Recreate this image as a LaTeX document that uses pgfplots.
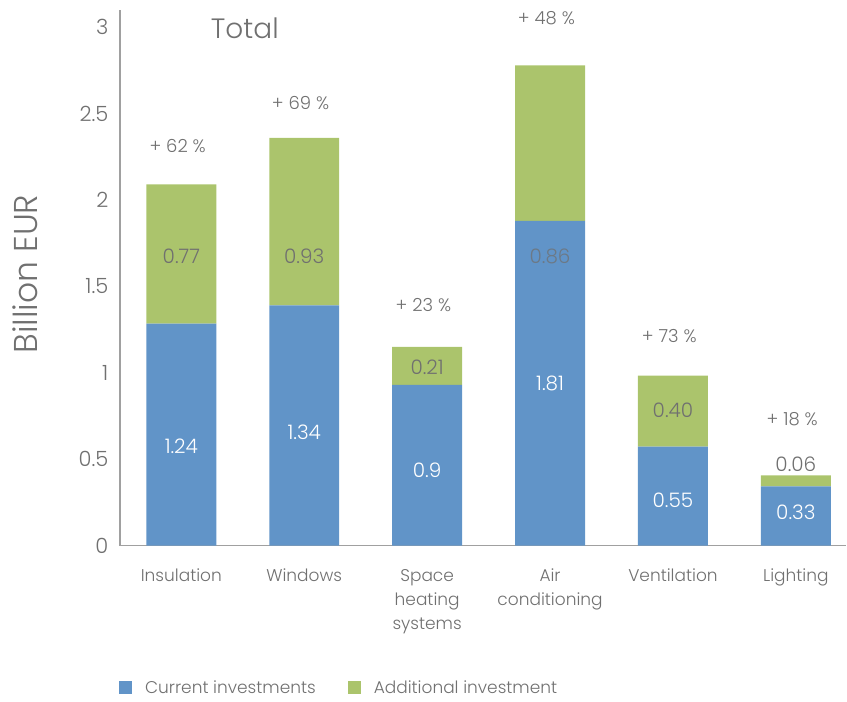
\documentclass[border=0pt]{standalone}
\usepackage{pgfplots}
\pgfplotsset{compat=1.18}
\usepackage{fontspec}
\setmainfont{Poppins}[UprightFont=* Light]
\definecolor{cblue}{HTML}{6194C8}
\definecolor{cgreen}{HTML}{ABC46C}
\definecolor{ctext}{HTML}{707070}
\definecolor{caxis}{HTML}{A0A0A0}
\tikzset{
 vlab/.style={font=\fontsize{20}{24}\selectfont, anchor=center},
 plab/.style={font=\fontsize{18}{22}\selectfont, anchor=center, text=ctext},
}
\begin{document}
\begin{tikzpicture}
\begin{axis}[
 scale only axis, width=727pt, height=536pt,
 ybar stacked, bar width=70pt,
 xmin=-0.5, xmax=5.41, ymin=0, ymax=3.1,
 xtick=data,
 xticklabels={Insulation,Windows,{Space\\heating\\systems},{Air\\conditioning},Ventilation,Lighting},
 xticklabel style={align=center, font=\fontsize{17}{24}\selectfont, text=ctext, yshift=-20pt},
 ytick={0,0.5,1,1.5,2,2.5,3}, yticklabels={0,0.5,1,1.5,2,2.5,3},
 yticklabel style={font=\fontsize{21}{24}\selectfont, text=ctext, xshift=-8pt},
 axis lines=left, axis line style={caxis, line width=1.5pt, -},
 major tick length=0pt,
 ylabel={Billion EUR},
 ylabel style={at={(axis description cs:-0.1307,0.507)}, anchor=center, font=\fontsize{33}{38}\selectfont, text=ctext},
 legend style={at={(axis description cs:0,0)}, anchor=west, xshift=-4pt, yshift=-142pt, draw=none, fill=none,
   font=\fontsize{17}{22}\selectfont, text=ctext, legend columns=2,
   /tikz/every even column/.append style={column sep=30pt}},
 legend image code/.code={\fill[#1] (0pt,-6.5pt) rectangle (13pt,6.5pt); \path (24pt,0pt);},
 clip=false,
]
\addplot[fill=cblue, draw=none] coordinates {(0,1.285) (1,1.39) (2,0.93) (3,1.88) (4,0.573) (5,0.342)};
\addlegendentry{Current investments}
\addplot[fill=cgreen, draw=none] coordinates {(0,0.805) (1,0.97) (2,0.22) (3,0.90) (4,0.41) (5,0.064)};
\addlegendentry{Additional investment}
\coordinate (b0) at (axis cs:0,0.573);
\coordinate (b1) at (axis cs:1,0.654);
\coordinate (b2) at (axis cs:2,0.434);
\coordinate (b3) at (axis cs:3,0.938);
\coordinate (b4) at (axis cs:4,0.26);
\coordinate (b5) at (axis cs:5,0.19);
\coordinate (g0) at (axis cs:0,1.673);
\coordinate (g1) at (axis cs:1,1.673);
\coordinate (g2) at (axis cs:2,1.03);
\coordinate (g3) at (axis cs:3,1.673);
\coordinate (g4) at (axis cs:4,0.78);
\coordinate (g5) at (axis cs:5,0.469);
\coordinate (p0) at (axis cs:-0.03,2.31);
\coordinate (p1) at (axis cs:0.97,2.56);
\coordinate (p2) at (axis cs:1.97,1.39);
\coordinate (p3) at (axis cs:2.97,3.05);
\coordinate (p4) at (axis cs:3.97,1.21);
\coordinate (p5) at (axis cs:4.97,0.73);
\coordinate (tt) at (rel axis cs:0.172,0.966);
\end{axis}
\node[vlab, white] at (b0) {1.24};
\node[vlab, white] at (b1) {1.34};
\node[vlab, white] at (b2) {0.9};
\node[vlab, white] at (b3) {1.81};
\node[vlab, white] at (b4) {0.55};
\node[vlab, white] at (b5) {0.33};
\node[vlab, text=ctext] at (g0) {0.77};
\node[vlab, text=ctext] at (g1) {0.93};
\node[vlab, text=ctext] at (g2) {0.21};
\node[vlab, text=ctext!75!cblue] at (g3) {0.86};
\node[vlab, text=ctext] at (g4) {0.40};
\node[vlab, text=ctext] at (g5) {0.06};
\node[plab] at (p0) {+ 62 \%};
\node[plab] at (p1) {+ 69 \%};
\node[plab] at (p2) {+ 23 \%};
\node[plab] at (p3) {+ 48 \%};
\node[plab] at (p4) {+ 73 \%};
\node[plab] at (p5) {+ 18 \%};
\node[font=\fontsize{28}{34}\selectfont, text=ctext] at (tt) {Total};
\path[use as bounding box] (-120pt,-156pt) rectangle (727pt,546pt);
\end{tikzpicture}
\end{document}
